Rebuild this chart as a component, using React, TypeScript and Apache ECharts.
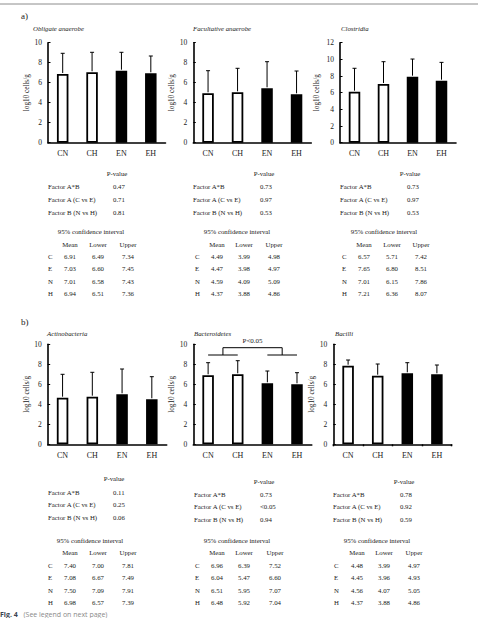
import React, { useEffect, useRef } from "react";
import * as echarts from "echarts";

// ---- data ----
const categories = ["CN", "CH", "EN", "EH"];

const panelTitles = [
  "Obligate anaerobe",
  "Facultative anaerobe",
  "Clostridia",
  "Actinobacteria",
  "Bacteroidetes",
  "Bacilli",
];
const yMax = [10, 10, 12, 10, 10, 10];

// bar means (log10 cells/g)
const obligateMean = [6.87, 7.04, 7.2, 6.94];
const facultativeMean = [4.94, 5.04, 5.44, 4.84];
const clostridiaMean = [6.12, 7.04, 7.92, 7.44];
const actinoMean = [4.66, 4.76, 5.0, 4.5];
const bacteroidetesMean = [6.9, 7.0, 6.1, 6.0];
const bacilliMean = [7.86, 6.86, 7.1, 7.0];

// top of the error whisker
const obligateUpper = [8.94, 9.04, 9.04, 8.67];
const facultativeUpper = [7.2, 7.44, 8.1, 7.17];
const clostridiaUpper = [8.93, 9.72, 10.04, 9.64];
const actinoUpper = [7.0, 7.2, 7.53, 6.76];
const bacteroidetesUpper = [8.16, 8.36, 7.33, 7.16];
const bacilliUpper = [8.43, 8.03, 8.16, 7.93];

const means = [obligateMean, facultativeMean, clostridiaMean, actinoMean, bacteroidetesMean, bacilliMean];
const uppers = [obligateUpper, facultativeUpper, clostridiaUpper, actinoUpper, bacteroidetesUpper, bacilliUpper];

// two-way ANOVA p-values
const factorLabels = ["Factor A*B", "Factor A (C vs E)", "Factor B (N vs H)"];
const pObligate = ["0.47", "0.71", "0.81"];
const pFacultative = ["0.73", "0.97", "0.53"];
const pClostridia = ["0.73", "0.97", "0.53"];
const pActino = ["0.11", "0.25", "0.06"];
const pBacteroidetes = ["0.73", "<0.05", "0.94"];
const pBacilli = ["0.78", "0.92", "0.59"];
const pValues = [pObligate, pFacultative, pClostridia, pActino, pBacteroidetes, pBacilli];

// 95% confidence intervals
const ciHeaders = ["Mean", "Lower", "Upper"];
const ciRows = ["C", "E", "N", "H"];
const ciObligate = [["6.91", "6.49", "7.34"], ["7.03", "6.60", "7.45"], ["7.01", "6.58", "7.43"], ["6.94", "6.51", "7.36"]];
const ciFacultative = [["4.49", "3.99", "4.98"], ["4.47", "3.98", "4.97"], ["4.59", "4.09", "5.09"], ["4.37", "3.88", "4.86"]];
const ciClostridia = [["6.57", "5.71", "7.42"], ["7.65", "6.80", "8.51"], ["7.01", "6.15", "7.86"], ["7.21", "6.36", "8.07"]];
const ciActino = [["7.40", "7.00", "7.81"], ["7.08", "6.67", "7.49"], ["7.50", "7.09", "7.91"], ["6.98", "6.57", "7.39"]];
const ciBacteroidetes = [["6.96", "6.39", "7.52"], ["6.04", "5.47", "6.60"], ["6.51", "5.95", "7.07"], ["6.48", "5.92", "7.04"]];
const ciBacilli = [["4.48", "3.99", "4.97"], ["4.45", "3.96", "4.93"], ["4.56", "4.07", "5.05"], ["4.37", "3.88", "4.86"]];
const ciTables = [ciObligate, ciFacultative, ciClostridia, ciActino, ciBacteroidetes, ciBacilli];

const sigLabel = "P<0.05";
const sigBracketLow = 8.93;
const sigBracketHigh = 9.66;
const sigTextY = 10.36;

// ---- layout ----
const SERIF = "Liberation Serif";
const SANS = "Open Sans";
const INK = "#1a1a1a";

const grids = [
  { left: 48, top: 42.7, width: 117.5, height: 100 },
  { left: 193.3, top: 42.7, width: 118, height: 100 },
  { left: 340, top: 42.7, width: 116, height: 100 },
  { left: 47.7, top: 344.3, width: 119, height: 100 },
  { left: 193.3, top: 344.3, width: 118.5, height: 100 },
  { left: 333.3, top: 344.3, width: 118.4, height: 100 },
];

const titlePos = [
  [33, 28], [193, 28], [341, 28],
  [47, 333], [194, 333], [335, 333],
];

// per-panel text table layout
type TableLayout = {
  pTitle: [number, number];
  factorY: number[];
  labelX: number;
  valueX: number;
  ciTitle: [number, number];
  headerY: number;
  rowX: number;
  colX: number[];
  rowY: number[];
};
const tableLayouts: TableLayout[] = [
  { pTitle: [117, 173], factorY: [186, 199, 212], labelX: 48, valueX: 113, ciTitle: [91, 231], headerY: 244, rowX: 48, colX: [70, 98, 128], rowY: [256, 268.5, 281, 293.5] },
  { pTitle: [264, 173], factorY: [186, 199, 212], labelX: 193, valueX: 260, ciTitle: [237, 231], headerY: 244, rowX: 195, colX: [217, 244, 274], rowY: [256, 268.5, 281, 293.5] },
  { pTitle: [410, 173], factorY: [186, 199, 212], labelX: 340, valueX: 407, ciTitle: [384, 231], headerY: 244, rowX: 342, colX: [364, 392, 421], rowY: [256, 268.5, 281, 293.5] },
  { pTitle: [114, 478], factorY: [492, 504.5, 517], labelX: 48, valueX: 113, ciTitle: [90, 540.5], headerY: 552.7, rowX: 48, colX: [70, 98, 128], rowY: [565, 577.7, 590, 602.7] },
  { pTitle: [264, 481], factorY: [494, 506, 519], labelX: 194, valueX: 260, ciTitle: [237, 540.5], headerY: 552.7, rowX: 195, colX: [217, 244, 275], rowY: [565, 577.7, 590, 602.7] },
  { pTitle: [404, 481], factorY: [494, 506, 519], labelX: 333, valueX: 400, ciTitle: [377, 540.5], headerY: 552.7, rowX: 334, colX: [357, 384, 414], rowY: [565, 577.7, 590, 602.7] },
];

function txt(x: number, y: number, text: string, size: number, align = "left", extra: any = {}) {
  return {
    type: "text",
    x,
    y,
    silent: true,
    style: {
      text,
      fontFamily: extra.family || SERIF,
      fontSize: size,
      fontStyle: extra.fontStyle || "normal",
      fontWeight: extra.fontWeight || "normal",
      fill: extra.fill || INK,
      align,
      verticalAlign: "middle",
      textAlign: align,
      textVerticalAlign: "middle",
      ...(extra.rich ? { rich: extra.rich } : {}),
    },
  };
}

function buildOption() {
  const xAxis = grids.map((_, i) => ({
    type: "category",
    gridIndex: i,
    data: categories,
    boundaryGap: true,
    axisLine: { lineStyle: { color: "#000", width: 1.6 } },
    axisTick: i === 5 ? { show: true, length: 2, lineStyle: { color: "#000", width: 1.4 } } : { show: false },
    axisLabel: { color: INK, fontFamily: SERIF, fontSize: 8, margin: 7 },
  }));

  const yAxis = grids.map((_, i) => ({
    type: "value",
    gridIndex: i,
    min: 0,
    max: yMax[i],
    interval: 2,
    name: "log10 cells/g",
    nameLocation: "middle",
    nameGap: i === 2 ? 20 : 16,
    nameTextStyle: { color: INK, fontFamily: SERIF, fontSize: 7.2 },
    splitLine: { show: false },
    axisLine: { show: true, lineStyle: { color: "#000", width: 1.6 } },
    axisTick: { show: true, inside: true, length: 2.5, lineStyle: { color: "#000", width: 1 } },
    axisLabel: { color: INK, fontFamily: SERIF, fontSize: 7.5, margin: 6 },
  }));

  const series: any[] = [];
  grids.forEach((_, i) => {
    series.push({
      type: "bar",
      xAxisIndex: i,
      yAxisIndex: i,
      barWidth: 11.5,
      data: means[i].map((v, k) => ({
        value: v,
        itemStyle: { color: k < 2 ? "#fff" : "#000" },
      })),
      itemStyle: { borderColor: "#000", borderWidth: 1.8 },
      z: 2,
    });
    series.push({
      type: "custom",
      xAxisIndex: i,
      yAxisIndex: i,
      z: 3,
      data: means[i].map((m, k) => [k, m, uppers[i][k]]),
      encode: { x: 0, y: [1, 2] },
      renderItem: (params: any, api: any) => {
        const x = api.value(0);
        const p0 = api.coord([x, api.value(1)]);
        const p1 = api.coord([x, api.value(2)]);
        const st = { stroke: "#000", lineWidth: 1 };
        return {
          type: "group",
          children: [
            { type: "line", shape: { x1: p0[0], y1: p0[1] - 1, x2: p1[0], y2: p1[1] }, style: st },
            { type: "line", shape: { x1: p1[0] - 2, y1: p1[1], x2: p1[0] + 2, y2: p1[1] }, style: st },
          ],
        };
      },
    });
  });

  // significance bracket for the C vs E comparison (Bacteroidetes)
  series.push({
    type: "custom",
    xAxisIndex: 4,
    yAxisIndex: 4,
    z: 4,
    clip: false,
    data: [[0, 1, 2, 3]],
    renderItem: (params: any, api: any) => {
      const a = api.coord([api.value(0), sigBracketLow]);
      const b = api.coord([api.value(1), sigBracketLow]);
      const c = api.coord([api.value(2), sigBracketLow]);
      const d = api.coord([api.value(3), sigBracketLow]);
      const top = api.coord([0, sigBracketHigh])[1];
      const tY = api.coord([0, sigTextY])[1];
      const lm = (a[0] + b[0]) / 2;
      const rm = (c[0] + d[0]) / 2;
      const st = { stroke: "#000", lineWidth: 1 };
      return {
        type: "group",
        children: [
          { type: "line", shape: { x1: a[0], y1: a[1], x2: b[0], y2: b[1] }, style: st },
          { type: "line", shape: { x1: c[0], y1: c[1], x2: d[0], y2: d[1] }, style: st },
          { type: "polyline", shape: { points: [[lm, a[1]], [lm, top], [rm, top], [rm, a[1]]] }, style: { ...st, fill: null } },
          {
            type: "text",
            x: (lm + rm) / 2,
            y: tY,
            style: { text: sigLabel, fontFamily: SERIF, fontSize: 7, fill: INK, align: "center", verticalAlign: "middle" },
          },
        ],
      };
    },
  });

  const graphic: any[] = [];
  graphic.push({
    type: "line",
    shape: { x1: 0, y1: 4, x2: 478, y2: 4 },
    style: { stroke: "#8c8c8c", lineWidth: 1 },
    silent: true,
  });
  graphic.push(txt(21, 16, "a)", 9));
  graphic.push(txt(21, 322, "b)", 9));

  panelTitles.forEach((t, i) => {
    graphic.push(txt(titlePos[i][0], titlePos[i][1], t, 6.8, "left", { fontStyle: "italic" }));
  });

  tableLayouts.forEach((L, i) => {
    graphic.push(txt(L.pTitle[0], L.pTitle[1], "P-value", 6.8, "center"));
    factorLabels.forEach((f, r) => {
      graphic.push(txt(L.labelX, L.factorY[r], f, 6.8));
      graphic.push(txt(L.valueX, L.factorY[r], pValues[i][r], 6.8));
    });
    graphic.push(txt(L.ciTitle[0], L.ciTitle[1], "95% confidence interval", 6.8, "center"));
    ciHeaders.forEach((h, c) => graphic.push(txt(L.colX[c], L.headerY, h, 6.8, "center")));
    ciRows.forEach((rName, r) => {
      graphic.push(txt(L.rowX, L.rowY[r], rName, 6.8));
      ciTables[i][r].forEach((v, c) => graphic.push(txt(L.colX[c], L.rowY[r], v, 6.8, "center")));
    });
  });

  graphic.push(txt(0, 614, "Fig. 4", 7, "left", { family: SANS, fontWeight: "bold", fill: "#3a4450" }));
  graphic.push(txt(23.5, 614, "(See legend on next page)", 7, "left", { family: SANS, fill: "#8a8a8a" }));

  return {
    animation: false,
    backgroundColor: "#fff",
    grid: grids.map((g) => ({ ...g, containLabel: false })),
    xAxis,
    yAxis,
    series,
    graphic,
  };
}

export default function App() {
  const ref = useRef<HTMLDivElement>(null);
  useEffect(() => {
    if (!ref.current) return;
    const chart = echarts.init(ref.current, undefined, { renderer: "svg" });
    chart.setOption(buildOption() as any);
    return () => chart.dispose();
  }, []);
  return (
    <div
      ref={ref}
      style={{ position: "absolute", left: 0, top: 0, width: 478, height: 618, background: "#fff" }}
    />
  );
}
